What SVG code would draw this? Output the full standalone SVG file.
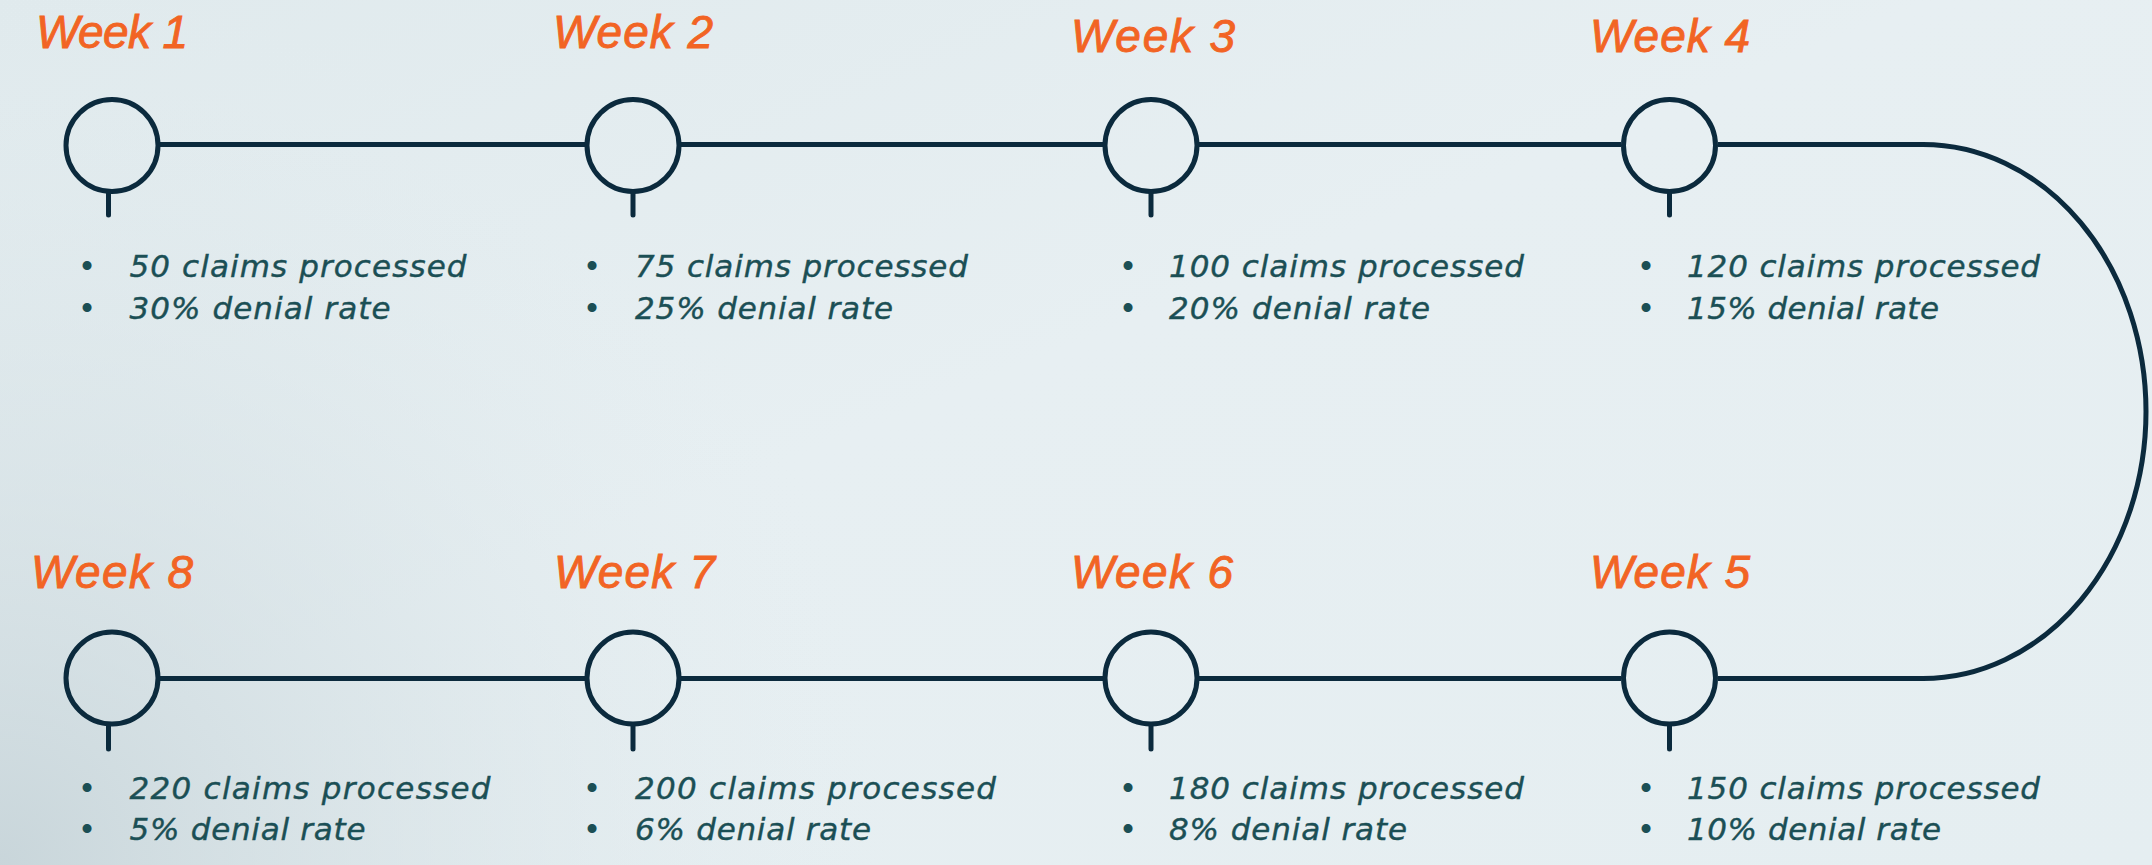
<svg xmlns="http://www.w3.org/2000/svg" width="2152" height="865" viewBox="0 0 2152 865">
  <defs>
    <linearGradient id="bgBase" x1="0" y1="0" x2="1" y2="1">
      <stop offset="0" stop-color="#E0EAED"/>
      <stop offset="0.45" stop-color="#E7EFF2"/>
      <stop offset="1" stop-color="#E5EEF1"/>
    </linearGradient>
    <radialGradient id="bgShade" cx="0" cy="865" r="900" gradientUnits="userSpaceOnUse">
      <stop offset="0" stop-color="#C3D1D6" stop-opacity="0.85"/>
      <stop offset="0.5" stop-color="#D3DFE3" stop-opacity="0.45"/>
      <stop offset="1" stop-color="#E5EEF1" stop-opacity="0"/>
    </radialGradient>
    <style>
      .ring { fill: none; stroke: #0B2A3D; stroke-width: 5; }
      .stem { stroke: #0B2A3D; stroke-width: 5; stroke-linecap: round; }
      .link { fill: none; stroke: #0B2A3D; stroke-width: 5; }
      .wk { font-family: "Liberation Sans", Arial, sans-serif; font-style: italic; font-size: 46px; fill: #F26424; stroke: #F26424; stroke-width: 0.9px; }
      .bl { font-family: "DejaVu Sans", "Liberation Sans", sans-serif; font-style: italic; font-size: 31px; fill: #1B4F55; stroke: #1B4F55; stroke-width: 0.4px; }
      .dot { font-family: "Liberation Sans", Arial, sans-serif; font-size: 33px; fill: #1B4F55; text-anchor: middle; }
    </style>
  </defs>

  <!-- backdrop -->
  <rect width="2152" height="865" fill="url(#bgBase)"/>
  <rect width="2152" height="865" fill="url(#bgShade)"/>

  <!-- timeline track -->
  <g id="connectors">
    <line class="link" x1="160" y1="144.5" x2="585" y2="144.5"/>
    <line class="link" x1="681" y1="144.5" x2="1103" y2="144.5"/>
    <line class="link" x1="1199" y1="144.5" x2="1621" y2="144.5"/>
    <path class="link" d="M1718,144.5 H1923 A223,267 0 0 1 1923,678.5 H1718"/>
    <line class="link" x1="1621" y1="678.5" x2="1199" y2="678.5"/>
    <line class="link" x1="1103" y1="678.5" x2="681" y2="678.5"/>
    <line class="link" x1="585" y1="678.5" x2="160" y2="678.5"/>
  </g>

  <!-- top row -->
  <g id="week1">
    <text class="wk" x="36" y="48" textLength="152">Week 1</text>
    <circle class="ring" cx="112" cy="145.5" r="46"/>
    <line class="stem" x1="108.5" y1="192" x2="108.5" y2="215"/>
    <text class="dot" x="87" y="277">•</text>
    <text class="bl" x="129.5" y="277" textLength="337">50 claims processed</text>
    <text class="dot" x="87" y="319">•</text>
    <text class="bl" x="129.5" y="319" textLength="261">30% denial rate</text>
  </g>

  <g id="week2">
    <text class="wk" x="553" y="48" textLength="160">Week 2</text>
    <circle class="ring" cx="633" cy="145.5" r="46"/>
    <line class="stem" x1="633" y1="192" x2="633" y2="215"/>
    <text class="dot" x="592" y="277">•</text>
    <text class="bl" x="635" y="277" textLength="333">75 claims processed</text>
    <text class="dot" x="592" y="319">•</text>
    <text class="bl" x="635" y="319" textLength="258">25% denial rate</text>
  </g>

  <g id="week3">
    <text class="wk" x="1071" y="51.5" textLength="164">Week 3</text>
    <circle class="ring" cx="1151" cy="145.5" r="46"/>
    <line class="stem" x1="1151" y1="192" x2="1151" y2="215"/>
    <text class="dot" x="1128" y="277">•</text>
    <text class="bl" x="1169" y="277" textLength="355">100 claims processed</text>
    <text class="dot" x="1128" y="319">•</text>
    <text class="bl" x="1169" y="319" textLength="261">20% denial rate</text>
  </g>

  <g id="week4">
    <text class="wk" x="1590" y="51.5" textLength="160">Week 4</text>
    <circle class="ring" cx="1669.5" cy="145.5" r="46"/>
    <line class="stem" x1="1669.5" y1="192" x2="1669.5" y2="215"/>
    <text class="dot" x="1646" y="277">•</text>
    <text class="bl" x="1687" y="277" textLength="353">120 claims processed</text>
    <text class="dot" x="1646" y="319">•</text>
    <text class="bl" x="1687" y="319" textLength="252">15% denial rate</text>
  </g>

  <!-- bottom row -->
  <g id="week5">
    <text class="wk" x="1590" y="587.5" textLength="160">Week 5</text>
    <circle class="ring" cx="1669.5" cy="678" r="46"/>
    <line class="stem" x1="1669.5" y1="725" x2="1669.5" y2="749"/>
    <text class="dot" x="1646" y="799">•</text>
    <text class="bl" x="1687" y="799" textLength="353">150 claims processed</text>
    <text class="dot" x="1646" y="840">•</text>
    <text class="bl" x="1687" y="840" textLength="254">10% denial rate</text>
  </g>

  <g id="week6">
    <text class="wk" x="1071" y="587.5" textLength="162">Week 6</text>
    <circle class="ring" cx="1151" cy="678" r="46"/>
    <line class="stem" x1="1151" y1="725" x2="1151" y2="749"/>
    <text class="dot" x="1128" y="799">•</text>
    <text class="bl" x="1169" y="799" textLength="355">180 claims processed</text>
    <text class="dot" x="1128" y="840">•</text>
    <text class="bl" x="1169" y="840" textLength="238">8% denial rate</text>
  </g>

  <g id="week7">
    <text class="wk" x="554" y="587.5" textLength="161">Week 7</text>
    <circle class="ring" cx="633" cy="678" r="46"/>
    <line class="stem" x1="633" y1="725" x2="633" y2="749"/>
    <text class="dot" x="592" y="799">•</text>
    <text class="bl" x="635" y="799" textLength="361">200 claims processed</text>
    <text class="dot" x="592" y="840">•</text>
    <text class="bl" x="635" y="840" textLength="236">6% denial rate</text>
  </g>

  <g id="week8">
    <text class="wk" x="31" y="587.5" textLength="162">Week 8</text>
    <circle class="ring" cx="112" cy="678" r="46"/>
    <line class="stem" x1="108.5" y1="725" x2="108.5" y2="749"/>
    <text class="dot" x="87" y="799">•</text>
    <text class="bl" x="129.5" y="799" textLength="361">220 claims processed</text>
    <text class="dot" x="87" y="840">•</text>
    <text class="bl" x="129.5" y="840" textLength="236">5% denial rate</text>
  </g>
</svg>
